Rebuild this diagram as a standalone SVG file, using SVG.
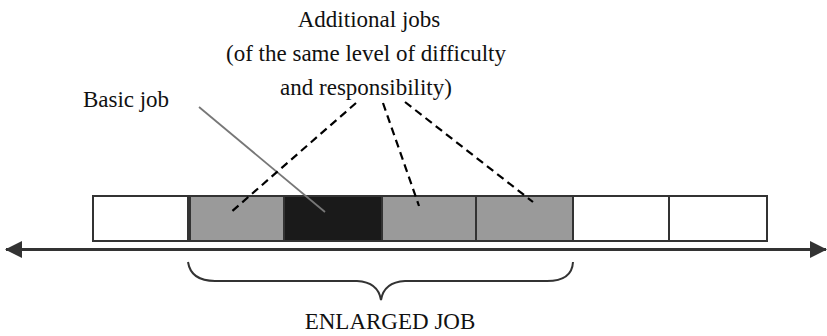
<svg xmlns="http://www.w3.org/2000/svg" width="827" height="336" viewBox="0 0 827 336">
<defs>
<style>
text{font-family:'Liberation Serif','Times New Roman',Times,serif;fill:#111;font-size:23px;text-anchor:middle;}
.box{stroke:#333;stroke-width:2;}
.w{fill:#fff;}
.g{fill:#9a9a9a;}
.k{fill:#1a1a1a;}
.dash{stroke:#000;stroke-width:2.2;stroke-dasharray:8,5;fill:none;}
</style>
<marker id="ah" viewBox="0 0 17 17" refX="16" refY="8.5" markerWidth="17" markerHeight="17" orient="auto-start-reverse" markerUnits="userSpaceOnUse">
<path d="M0,0 L17,8.5 L0,17 Z" fill="#333"/>
</marker>
</defs>
<rect width="827" height="336" fill="#fff"/>
<g id="label-additional">
<text x="369" y="27">Additional jobs</text>
<text x="366" y="61">(of the same level of difficulty</text>
<text x="366" y="95">and responsibility)</text>
</g>
<g id="label-basic">
<text x="126" y="107">Basic job</text>
</g>
<g id="boxes">
<rect id="b1" class="box w" x="93" y="196" width="95" height="45"/>
<rect id="b2" class="box g" x="190" y="196" width="94" height="45"/>
<rect id="b3" class="box k" x="284" y="196" width="98" height="45"/>
<rect id="b4" class="box g" x="382" y="196" width="94" height="45"/>
<rect id="b5" class="box g" x="476" y="196" width="97" height="45"/>
<rect id="b6" class="box w" x="573" y="196" width="96" height="45"/>
<rect id="b7" class="box w" x="669" y="196" width="98" height="45"/>
</g>
<g id="connectors">
<line x1="199" y1="107" x2="325" y2="212" stroke="#777" stroke-width="1.8"/>
<line class="dash" x1="356" y1="103" x2="230" y2="213"/>
<line class="dash" x1="383" y1="103" x2="419" y2="206"/>
<line class="dash" x1="405" y1="102" x2="533" y2="202"/>
<line x1="6" y1="249.5" x2="826" y2="249.5" stroke="#333" stroke-width="3" marker-start="url(#ah)" marker-end="url(#ah)"/>
<path d="M188,262 Q191,281 215,281 L357,281 Q378,282 381,300 Q384,282 405,281 L547,281 Q572,281 573,262" fill="none" stroke="#333" stroke-width="2"/>
</g>
<g id="label-enlarged">
<text x="390" y="329">ENLARGED JOB</text>
</g>
</svg>
